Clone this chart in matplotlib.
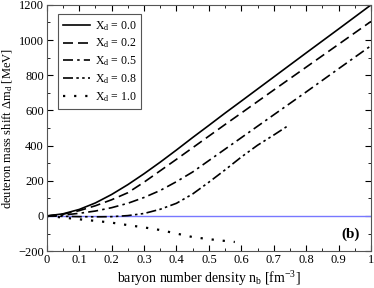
import matplotlib
matplotlib.use('Agg')
from matplotlib import pyplot as plt
from matplotlib.ticker import MultipleLocator

plt.rcParams['font.family'] = 'Liberation Serif'
plt.rcParams['mathtext.fontset'] = 'custom'
plt.rcParams['mathtext.rm'] = 'Liberation Serif'
plt.rcParams['mathtext.it'] = 'Liberation Serif:italic'

# baryon density grid [fm^-3]
nb = [0.0, 0.05, 0.1, 0.15, 0.2, 0.25, 0.3, 0.35, 0.4, 0.45, 0.5, 0.55, 0.6, 0.7, 0.8, 0.9, 1.0]
dm_00 = [0, 12, 37, 74, 122, 178, 240, 306, 375, 446, 515, 585, 653, 790, 927, 1063, 1200]
dm_02 = [0, 10, 30, 58, 92, 132, 192, 257, 322, 388, 454, 520, 585, 716, 846, 976, 1106]
dm_05 = [0, 5, 15, 28, 47, 72, 105, 145, 195, 250, 315, 380, 445, 575, 705, 837, 968]

nb_08 = [0.0, 0.05, 0.1, 0.15, 0.2, 0.25, 0.3, 0.35, 0.4, 0.45, 0.5, 0.55, 0.6, 0.65, 0.7, 0.74]
dm_08 = [0, -2, -4, -5, -4, 2, 14, 38, 72, 125, 192, 262, 335, 402, 460, 508]

nb_10 = [0.0, 0.05, 0.1, 0.15, 0.2, 0.25, 0.3, 0.35, 0.4, 0.45, 0.5, 0.58]
dm_10 = [0, -9, -19, -28, -38, -52, -65, -80, -100, -120, -132, -148]

fig = plt.figure(figsize=(3.74, 2.88), dpi=100)
ax = fig.add_axes([0.125, 0.128, 0.867, 0.855])

ax.plot([0, 1], [0, 0], color='#7878ff', lw=1.0)
ax.plot(nb, dm_00, color='black', lw=1.2, ls='-', label=r'X$_\mathrm{d}$ = 0.0')
ax.plot(nb, dm_02, color='black', lw=1.2, ls=(0, (6, 3)), label=r'X$_\mathrm{d}$ = 0.2')
ax.plot(nb, dm_05, color='black', lw=1.2, ls=(0, (6, 2.5, 1.5, 2.5)), label=r'X$_\mathrm{d}$ = 0.5')
ax.plot(nb_08, dm_08, color='black', lw=1.2, ls=(0, (6, 2, 1.5, 2, 1.5, 2)), label=r'X$_\mathrm{d}$ = 0.8')
ax.plot(nb_10, dm_10, color='black', lw=1.6, ls=(0, (1, 4)), label=r'X$_\mathrm{d}$ = 1.0')

ax.set_xlim(0, 1)
ax.set_ylim(-200, 1200)
ax.xaxis.set_minor_locator(MultipleLocator(0.05))
ax.yaxis.set_major_locator(MultipleLocator(200))
ax.yaxis.set_minor_locator(MultipleLocator(100))
ax.set_xticks([0, 0.1, 0.2, 0.3, 0.4, 0.5, 0.6, 0.7, 0.8, 0.9, 1.0])
ax.set_xticklabels(['0', '0.1', '0.2', '0.3', '0.4', '0.5', '0.6', '0.7', '0.8', '0.9', '1'])
ax.tick_params(which='both', direction='in', top=True, right=True, labelsize=9, pad=2)
ax.tick_params(which='major', length=4)
ax.tick_params(which='minor', length=2)
for s in ax.spines.values():
    s.set_color('#555555')

ax.set_xlabel(r'baryon number density n$_\mathrm{b}$ [fm$^{-3}$]', fontsize=10, labelpad=2)
ax.set_ylabel(r'deuteron mass shift $\Delta$m$_\mathrm{d}$ [MeV]', fontsize=9, labelpad=2)

ax.text(0.965, 0.07, '(b)', transform=ax.transAxes, fontsize=11, fontweight='bold', ha='right', va='center')

leg = ax.legend(loc='upper left', bbox_to_anchor=(0.035, 0.963), fontsize=8.5, fancybox=False,
                edgecolor='#555555', framealpha=1, handlelength=2.3, handletextpad=0.4,
                labelspacing=0.35, borderpad=0.4, borderaxespad=0)
leg.get_frame().set_linewidth(0.8)

fig.savefig('out.png', dpi=100)
